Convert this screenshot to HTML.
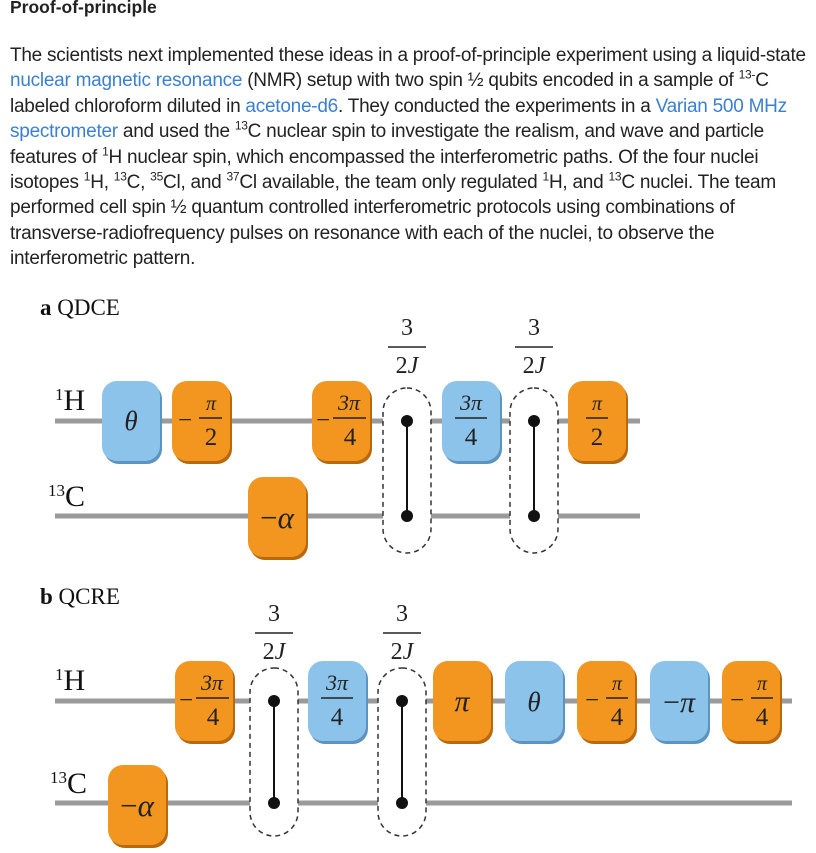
<!DOCTYPE html>
<html><head><meta charset="utf-8"><style>
body{margin:0;width:816px;height:853px;background:#fff;overflow:hidden;position:relative;font-family:"Liberation Sans",sans-serif;}
.t{position:absolute;left:10px;white-space:nowrap;font-size:19px;color:#222;letter-spacing:-0.25px;}
.h{position:absolute;left:10px;top:-3px;font-size:17.5px;font-weight:bold;color:#222;}
a{color:#3b7fd0;text-decoration:none}
sup{font-size:12px;line-height:0}
svg{position:absolute;left:0;top:0}
</style></head><body>
<div class="h">Proof-of-principle</div>
<div class="t" style="top:45px">The scientists next implemented these ideas in a proof-of-principle experiment using a liquid-state</div>
<div class="t" style="top:70px"><a>nuclear magnetic resonance</a> (NMR) setup with two spin ½ qubits encoded in a sample of <sup>13-</sup>C</div>
<div class="t" style="top:96px">labeled chloroform diluted in <a>acetone-d6</a>. They conducted the experiments in a <a>Varian 500 MHz</a></div>
<div class="t" style="top:121px"><a>spectrometer</a> and used the <sup>13</sup>C nuclear spin to investigate the realism, and wave and particle</div>
<div class="t" style="top:147px">features of <sup>1</sup>H nuclear spin, which encompassed the interferometric paths. Of the four nuclei</div>
<div class="t" style="top:172px">isotopes <sup>1</sup>H, <sup>13</sup>C, <sup>35</sup>Cl, and <sup>37</sup>Cl available, the team only regulated <sup>1</sup>H, and <sup>13</sup>C nuclei. The team</div>
<div class="t" style="top:197px">performed cell spin ½ quantum controlled interferometric protocols using combinations of</div>
<div class="t" style="top:223px">transverse-radiofrequency pulses on resonance with each of the nuclei, to observe the</div>
<div class="t" style="top:248px">interferometric pattern.</div>

<svg width="816" height="853" font-family="Liberation Serif,serif">
<defs>
<g id="o"><rect x="2" y="3" width="58" height="80" rx="15" fill="#b8680f"/><rect width="58" height="80" rx="15" fill="#f2961f"/></g>
<g id="b"><rect x="2" y="3" width="58" height="80" rx="15" fill="#5d93c0"/><rect width="58" height="80" rx="15" fill="#8cc3ea"/></g>
</defs>
<line x1="55" y1="421" x2="640" y2="421" stroke="#9a9a9a" stroke-width="5"/>
<line x1="55" y1="516" x2="640" y2="516" stroke="#9a9a9a" stroke-width="5"/>
<line x1="55" y1="701" x2="792" y2="701" stroke="#9a9a9a" stroke-width="5"/>
<line x1="55" y1="803" x2="792" y2="803" stroke="#9a9a9a" stroke-width="5"/>
<!-- panel a -->
<text x="40" y="315" font-size="23" fill="#111"><tspan font-weight="bold">a</tspan> QDCE</text>
<text x="55" y="410" font-size="30" fill="#111"><tspan font-size="17" dy="-10">1</tspan><tspan dy="10">H</tspan></text>
<text x="48" y="506" font-size="30" fill="#111"><tspan font-size="17" dy="-10">13</tspan><tspan dy="10">C</tspan></text>
<g font-style="italic" font-size="25" fill="#222" text-anchor="middle">
<use href="#b" x="102" y="381"/><text x="131" y="430" font-size="27">θ</text>
<use href="#o" x="172" y="381"/><text x="185" y="428" font-style="normal">−</text><text x="211" y="410" font-size="20">π</text><line x1="199" y1="418" x2="222" y2="418" stroke="#222" stroke-width="1.5"/><text x="211" y="445" font-style="normal">2</text>
<use href="#o" x="312" y="381"/><text x="323" y="428" font-style="normal">−</text><text x="349" y="410" font-size="22">3π</text><line x1="333" y1="418" x2="366" y2="418" stroke="#222" stroke-width="1.5"/><text x="350" y="445" font-style="normal">4</text>
<use href="#b" x="442" y="381"/><text x="471" y="410" font-size="22">3π</text><line x1="455" y1="418" x2="487" y2="418" stroke="#222" stroke-width="1.5"/><text x="471" y="445" font-style="normal">4</text>
<use href="#o" x="568" y="381"/><text x="597" y="410" font-size="20">π</text><line x1="586" y1="418" x2="608" y2="418" stroke="#222" stroke-width="1.5"/><text x="597" y="445" font-style="normal">2</text>
<use href="#o" x="248" y="477"/><text x="277" y="528" font-size="31"><tspan font-style="normal">−</tspan>α</text>
</g>
<g fill="#fff" stroke="#333" stroke-width="1.5" stroke-dasharray="5,4">
<rect x="383" y="388" width="48" height="165" rx="24"/><rect x="510" y="388" width="48" height="165" rx="24"/>
<rect x="250" y="668" width="48" height="168" rx="24"/><rect x="378" y="668" width="48" height="168" rx="24"/>
</g>
<g stroke="#111" stroke-width="2"><line x1="407" y1="421" x2="407" y2="516"/><line x1="534" y1="421" x2="534" y2="516"/><line x1="274" y1="701" x2="274" y2="803"/><line x1="402" y1="701" x2="402" y2="803"/></g>
<g fill="#111"><circle cx="407" cy="421" r="6"/><circle cx="407" cy="516" r="6"/><circle cx="534" cy="421" r="6"/><circle cx="534" cy="516" r="6"/>
<circle cx="274" cy="701" r="6"/><circle cx="274" cy="803" r="6"/><circle cx="402" cy="701" r="6"/><circle cx="402" cy="803" r="6"/></g>
<g font-size="24" fill="#222" text-anchor="middle">
<text x="407" y="335">3</text><line x1="388" y1="347" x2="426" y2="347" stroke="#222" stroke-width="1.5"/><text x="407" y="373">2<tspan font-style="italic">J</tspan></text>
<text x="534" y="335">3</text><line x1="515" y1="347" x2="553" y2="347" stroke="#222" stroke-width="1.5"/><text x="534" y="373">2<tspan font-style="italic">J</tspan></text>
<text x="274" y="621">3</text><line x1="255" y1="633" x2="293" y2="633" stroke="#222" stroke-width="1.5"/><text x="274" y="659">2<tspan font-style="italic">J</tspan></text>
<text x="402" y="621">3</text><line x1="383" y1="633" x2="421" y2="633" stroke="#222" stroke-width="1.5"/><text x="402" y="659">2<tspan font-style="italic">J</tspan></text>
</g>
<!-- panel b -->
<text x="40" y="604" font-size="23" fill="#111"><tspan font-weight="bold">b</tspan> QCRE</text>
<text x="55" y="690" font-size="30" fill="#111"><tspan font-size="17" dy="-10">1</tspan><tspan dy="10">H</tspan></text>
<text x="50" y="793" font-size="30" fill="#111"><tspan font-size="17" dy="-10">13</tspan><tspan dy="10">C</tspan></text>
<g font-style="italic" font-size="25" fill="#222" text-anchor="middle">
<use href="#o" x="175" y="661"/><text x="186" y="708" font-style="normal">−</text><text x="212" y="690" font-size="22">3π</text><line x1="196" y1="698" x2="229" y2="698" stroke="#222" stroke-width="1.5"/><text x="213" y="725" font-style="normal">4</text>
<use href="#b" x="308" y="661"/><text x="337" y="690" font-size="22">3π</text><line x1="321" y1="698" x2="353" y2="698" stroke="#222" stroke-width="1.5"/><text x="337" y="725" font-style="normal">4</text>
<use href="#o" x="433" y="661"/><text x="462" y="711" font-size="30">π</text>
<use href="#b" x="505" y="661"/><text x="534" y="711" font-size="27">θ</text>
<use href="#o" x="577" y="661"/><text x="592" y="708" font-style="normal">−</text><text x="617" y="690" font-size="20">π</text><line x1="606" y1="698" x2="628" y2="698" stroke="#222" stroke-width="1.5"/><text x="617" y="725" font-style="normal">4</text>
<use href="#b" x="650" y="661"/><text x="679" y="712" font-size="30"><tspan font-style="normal">−</tspan>π</text>
<use href="#o" x="722" y="661"/><text x="737" y="708" font-style="normal">−</text><text x="762" y="690" font-size="20">π</text><line x1="751" y1="698" x2="773" y2="698" stroke="#222" stroke-width="1.5"/><text x="762" y="725" font-style="normal">4</text>
<use href="#o" x="108" y="765"/><text x="137" y="816" font-size="31"><tspan font-style="normal">−</tspan>α</text>
</g>
</svg>
</body></html>
